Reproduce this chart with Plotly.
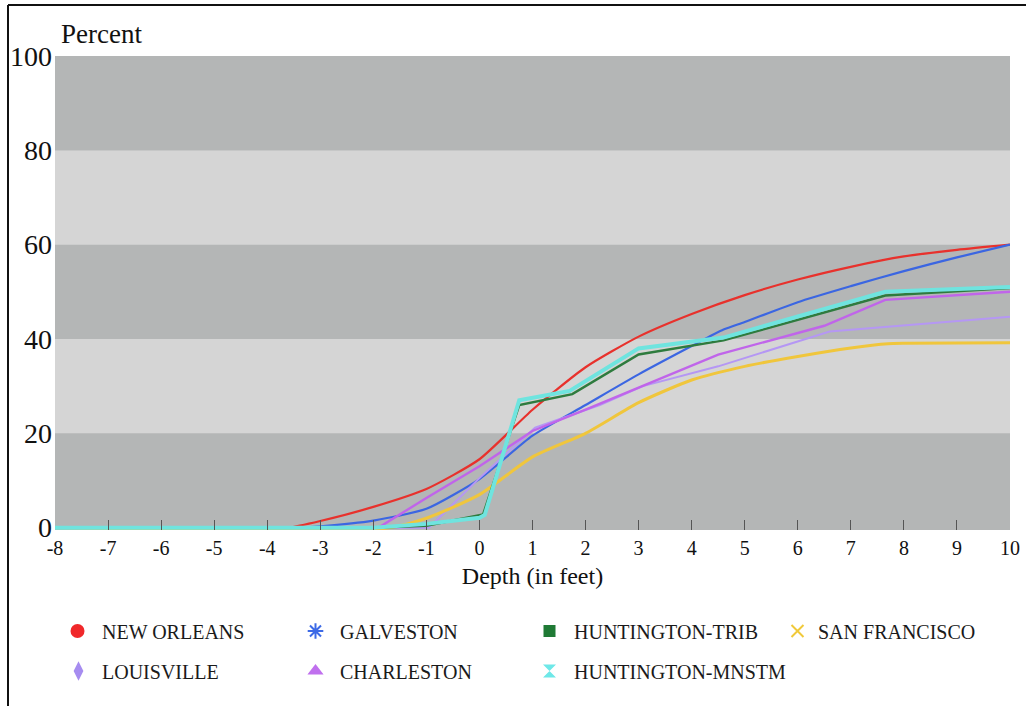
import plotly.graph_objects as go

# ---------------- data ----------------
depth_new_orleans = [-8, -4, -3.6, -3, -2, -1, 0, 1, 2, 3, 4, 5, 6, 7, 8, 9, 10]
pct_new_orleans = [0, 0, 0, 1.4, 4.4, 8.2, 14.5, 25.0, 34.0, 40.5, 45.3, 49.3, 52.6, 55.3, 57.5, 58.9, 60.0]

depth_galveston = [-8, -3.5, -3, -2, -1, 0, 1, 2, 3, 4, 4.6, 5, 6, 7, 8, 9, 10]
pct_galveston = [0, 0, 0.3, 1.5, 4.0, 10.3, 19.5, 26.0, 32.5, 38.5, 42.0, 43.6, 47.8, 51.2, 54.4, 57.3, 60.0]

depth_louisville = [-8, -0.95, 0, 1.05, 2.27, 3.08, 4.5, 6.6, 10]
pct_louisville = [0, 0, 10.5, 21.2, 26.0, 30.0, 34.2, 41.6, 44.7]

depth_charleston = [-8, -1.9, -1, 0, 1, 2, 3, 4.5, 6.5, 7.65, 10]
pct_charleston = [0, 0, 6.3, 13.0, 20.5, 25.0, 29.7, 36.7, 42.8, 48.3, 50.0]

depth_san_francisco = [-8, -1.7, -1, 0, 1, 2, 3, 4, 5, 6, 7, 7.7, 8, 10]
pct_san_francisco = [0, 0, 2.0, 7.0, 15.0, 20.0, 26.5, 31.3, 34.2, 36.3, 38.1, 39.0, 39.1, 39.2]

depth_huntington_trib = [-8, -2, -1, 0, 0.07, 0.75, 1.75, 3, 4.6, 7.65, 10]
pct_huntington_trib = [0, 0, 0.4, 2.5, 2.8, 26.0, 28.3, 36.7, 39.7, 49.2, 50.8]

depth_huntington_mnstm = [-8, -2, -1, 0, 0.1, 0.75, 1.7, 3, 4.6, 7.65, 10]
pct_huntington_mnstm = [0, 0, 0.8, 2.1, 2.7, 27.0, 29.0, 38.0, 40.3, 50.0, 51.0]

x_ticks = list(range(-8, 11))
y_ticks = [0, 20, 40, 60, 80, 100]

# ---------------- figure ----------------
W, H = 1026, 706
L, R, T, B = 55, 16, 56, 176
PW, PH = W - L - R, H - T - B


def px_x(px):
    return (px - L) / PW


def px_y(py):
    return (H - B - py) / PH


SERIF = "Liberation Serif, Times New Roman, serif"

fig = go.Figure()

lines = [
    ("NEW ORLEANS", depth_new_orleans, pct_new_orleans, "#e8312c", 2.2, "spline"),
    ("GALVESTON", depth_galveston, pct_galveston, "#3b66e2", 2.2, "spline"),
    ("LOUISVILLE", depth_louisville, pct_louisville, "#b597f4", 2.0, "linear"),
    ("CHARLESTON", depth_charleston, pct_charleston, "#c065ea", 2.4, "linear"),
    ("SAN FRANCISCO", depth_san_francisco, pct_san_francisco, "#f0c63c", 3.0, "spline"),
    ("HUNTINGTON-TRIB", depth_huntington_trib, pct_huntington_trib, "#2e7b3e", 2.5, "linear"),
    ("HUNTINGTON-MNSTM", depth_huntington_mnstm, pct_huntington_mnstm, "#6fe4df", 4.0, "linear"),
]
for name, xs, ys, color, width, shape in lines:
    fig.add_trace(go.Scatter(
        x=xs, y=ys, mode="lines", name=name, showlegend=False,
        line=dict(color=color, width=width, shape=shape, smoothing=0.6),
        hoverinfo="skip",
    ))

# legend entries (markers only), each in its own legend box
legend_items = [
    ("NEW ORLEANS", dict(symbol="circle", size=14, color="#f0282a"), 75, 631, 39),
    ("GALVESTON", dict(symbol="asterisk-open", size=13, color="#3d6ae6",
                       line=dict(color="#3d6ae6", width=2)), 313, 631, 39),
    ("HUNTINGTON-TRIB", dict(symbol="square", size=12, color="#1f7a35"), 547, 631, 39),
    ("SAN FRANCISCO", dict(symbol="x-thin-open", size=12, color="#f0c93a",
                           line=dict(color="#f0c93a", width=2)), 799, 631, 31),
    ("LOUISVILLE", dict(symbol="diamond-tall", size=14, color="#a68cf0"), 77, 671, 37),
    ("CHARLESTON", dict(symbol="triangle-up", size=14, color="#c070ee"), 313, 671, 39),
    ("HUNTINGTON-MNSTM", dict(symbol="hourglass", size=13, color="#6ee8e8"), 547, 671, 39),
]
legend_layouts = {}
for i, (name, marker, mx, my, iw) in enumerate(legend_items):
    key = "legend" if i == 0 else f"legend{i + 1}"
    fig.add_trace(go.Scatter(
        x=[None], y=[None], mode="markers", name=name, marker=marker,
        legend=key, showlegend=True,
    ))
    legend_layouts[key] = dict(
        x=px_x(mx - 22), y=px_y(my), xanchor="left", yanchor="middle",
        xref="paper", yref="paper", itemwidth=iw,
        font=dict(family=SERIF, size=20, color="#1a1a1a"),
        bgcolor="rgba(0,0,0,0)", borderwidth=0,
    )

# background bands
shapes = []
for lo, hi, col in [(0, 20, "#b4b6b6"), (20, 40, "#d5d5d5"), (40, 60, "#b4b6b6"),
                    (60, 80, "#d5d5d5"), (80, 100, "#b4b6b6")]:
    shapes.append(dict(type="rect", xref="paper", yref="y", x0=0, x1=1, y0=lo, y1=hi,
                       fillcolor=col, line=dict(width=0), layer="below"))
# outer frame (top and left edges)
shapes.append(dict(type="line", xref="paper", yref="paper",
                   x0=px_x(8), x1=px_x(W + 5), y0=px_y(5), y1=px_y(5),
                   line=dict(color="#111111", width=2)))
shapes.append(dict(type="line", xref="paper", yref="paper",
                   x0=px_x(8), x1=px_x(8), y0=px_y(5), y1=px_y(H + 5),
                   line=dict(color="#111111", width=2)))

fig.update_layout(
    width=W, height=H,
    margin=dict(l=L, r=R, t=T, b=B, autoexpand=False),
    paper_bgcolor="white",
    plot_bgcolor="#b4b6b6",
    shapes=shapes,
    showlegend=True,
    **legend_layouts,
    annotations=[dict(
        text="Percent", xref="paper", yref="paper", x=px_x(59), y=px_y(34),
        xanchor="left", yanchor="middle", showarrow=False,
        font=dict(family=SERIF, size=27, color="#111111"),
    )],
    xaxis=dict(
        range=[-8, 10], tickmode="array", tickvals=x_ticks,
        ticktext=[str(v) for v in x_ticks],
        ticks="inside", ticklen=10, tickwidth=1, tickcolor="#555555",
        showgrid=False, zeroline=False, showline=False,
        tickfont=dict(family=SERIF, size=20, color="#111111"),
        ticklabelstandoff=4,
        title=dict(text="Depth (in feet)", font=dict(family=SERIF, size=24, color="#111111"),
                   standoff=9),
    ),
    yaxis=dict(
        range=[-0.5, 100], tickmode="array", tickvals=y_ticks,
        ticks="", showgrid=False, zeroline=False, showline=False,
        tickfont=dict(family=SERIF, size=28, color="#111111"),
        ticklabelstandoff=2,
    ),
)

fig.write_html("out.html")
